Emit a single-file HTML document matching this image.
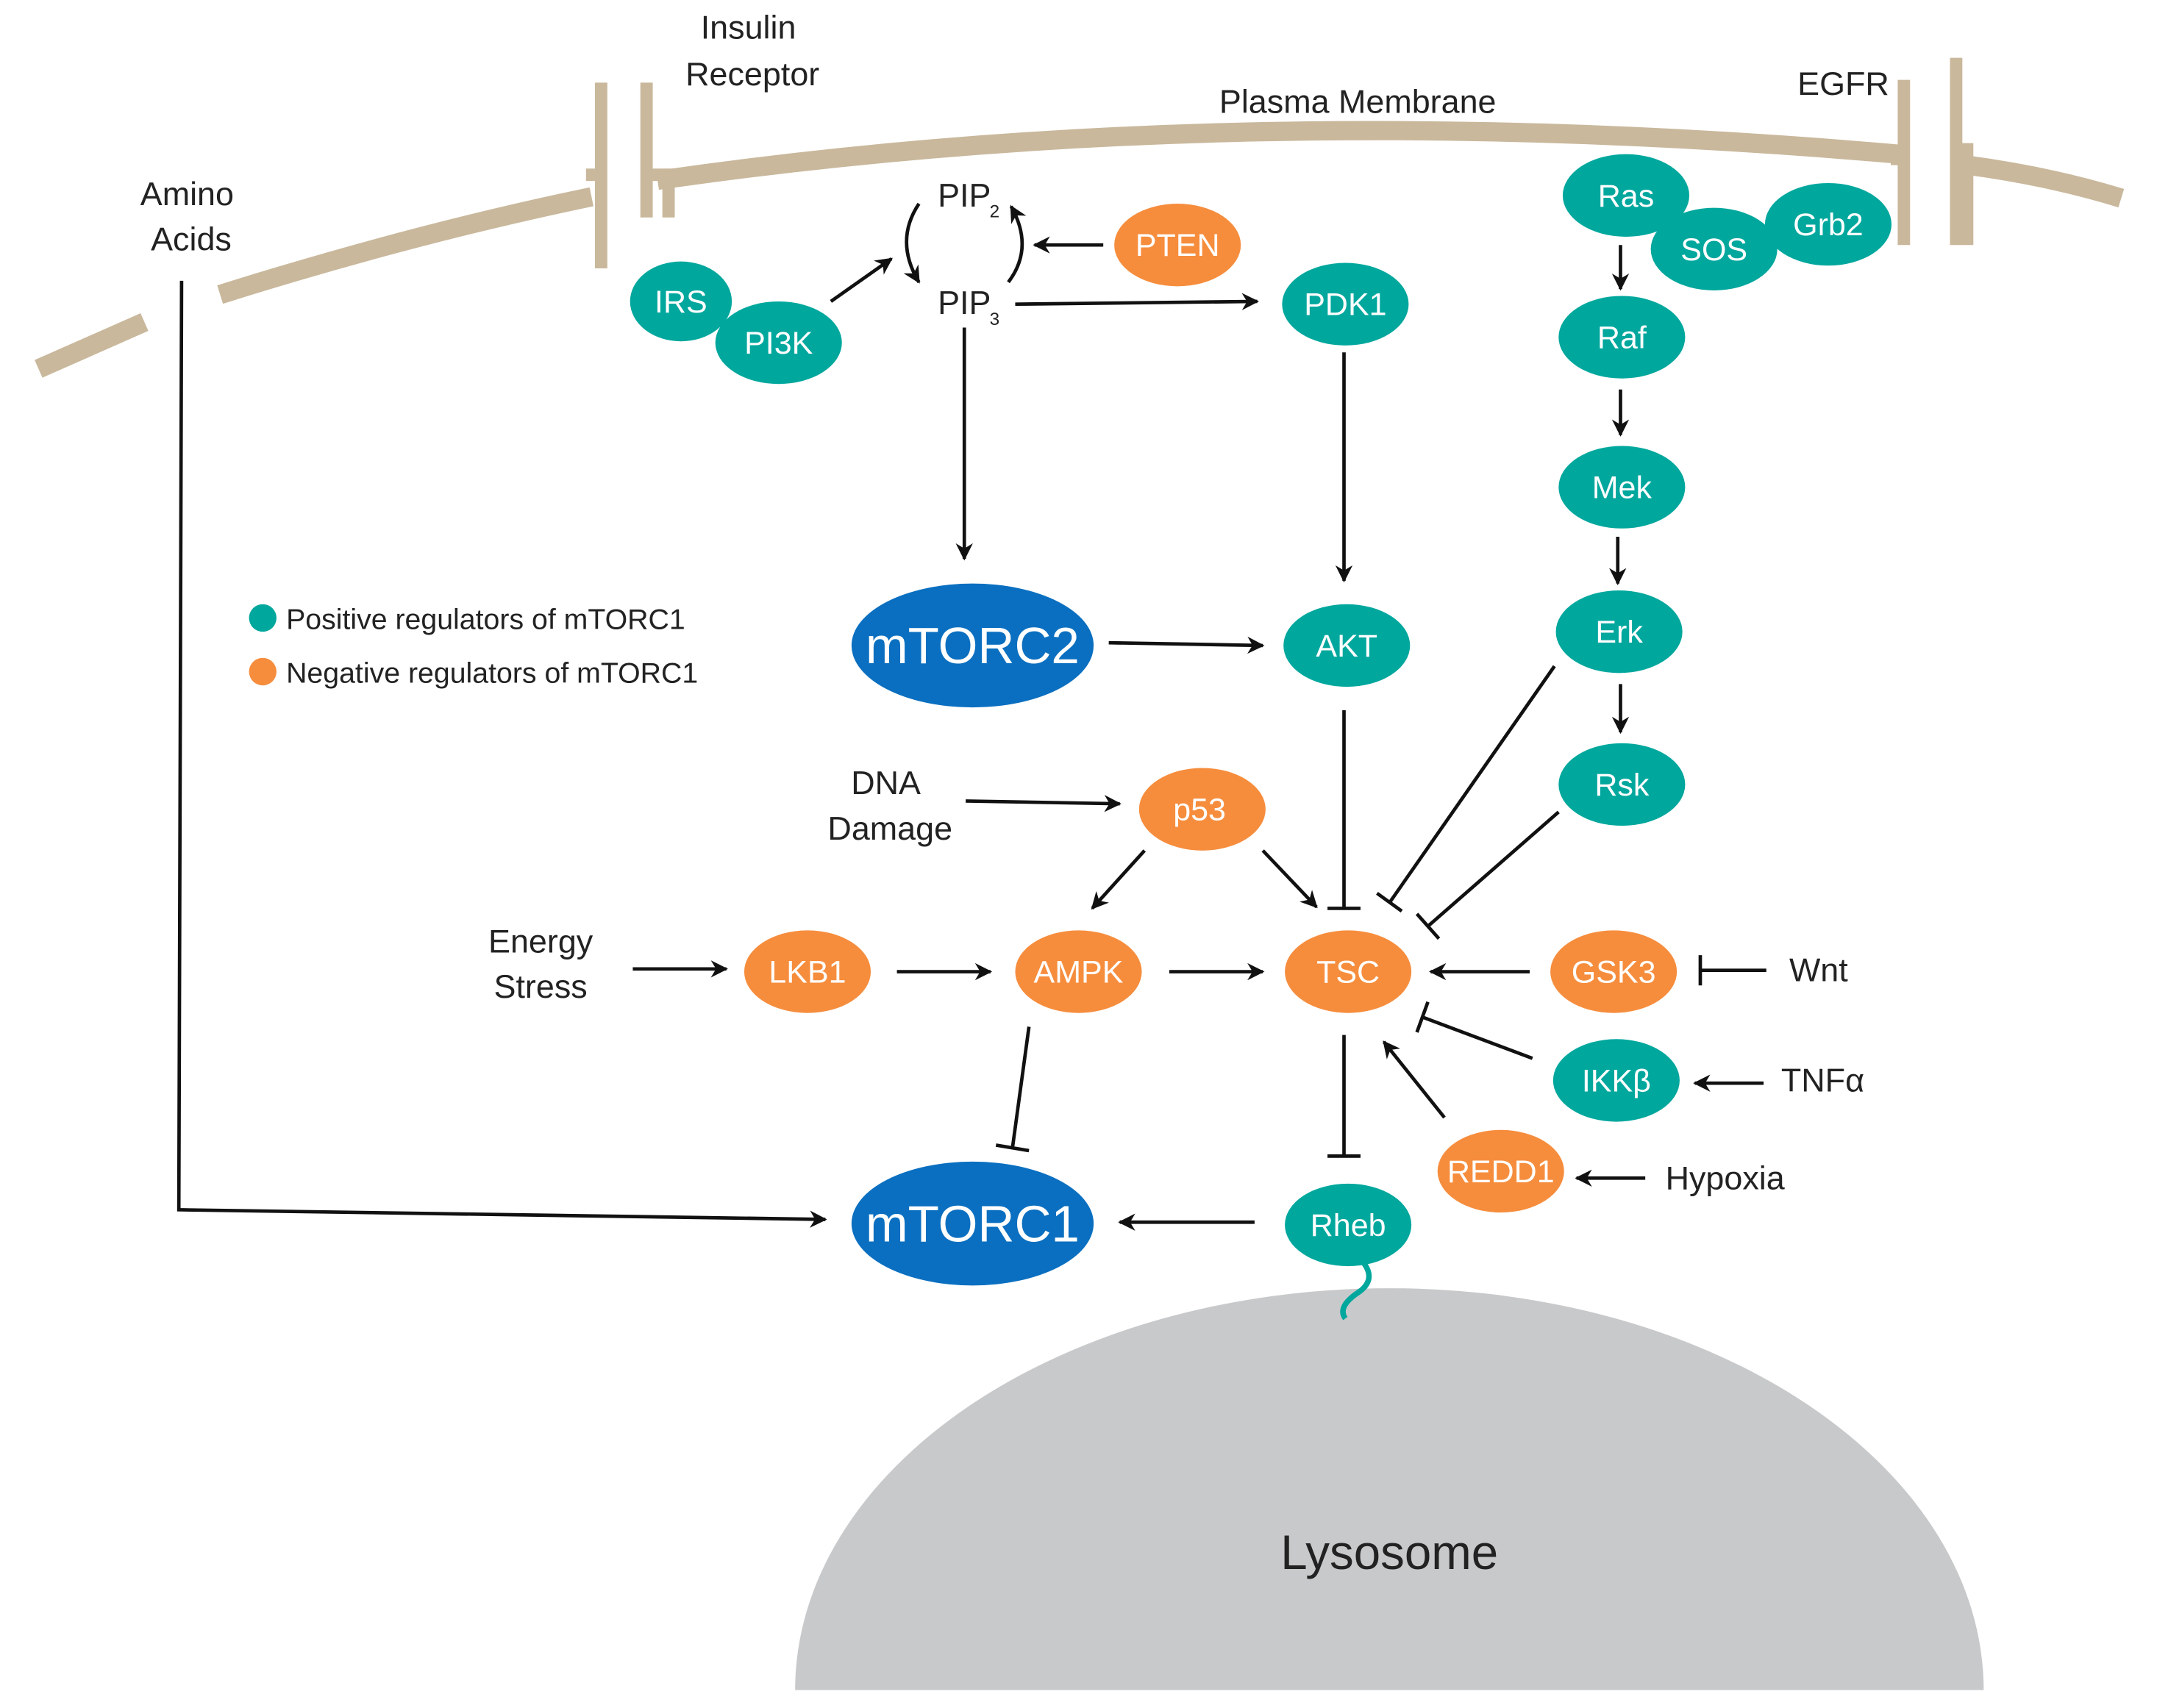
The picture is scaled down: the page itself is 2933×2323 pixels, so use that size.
<!DOCTYPE html>
<html><head><meta charset="utf-8"><style>
html,body{margin:0;padding:0;background:#fff}
svg{display:block}
text{font-family:"Liberation Sans",sans-serif}
</style></head><body>
<svg width="2933" height="2323" viewBox="0 0 1568 1241" preserveAspectRatio="none" xmlns="http://www.w3.org/2000/svg">
<defs>
<marker id="a" viewBox="0 0 10 10" refX="9" refY="5" markerWidth="5" markerHeight="5" orient="auto"><path d="M0,0 L10,5 L0,10 L3,5 z" fill="#111"/></marker>
</defs>
<rect width="1568" height="1241" fill="#fff"/>
<!-- lysosome -->
<path d="M578,1228 A432,292 0 0 1 1442,1228 Z" fill="#c8c9cb"/>
<text x="1010" y="1140" font-size="35" text-anchor="middle" fill="#222">Lysosome</text>
<!-- membrane -->
<g fill="none" stroke="#c9b89c" stroke-width="14">
<path d="M28,268 L105,234"/>
<path d="M160,214 Q300,170 430,143"/>
<path d="M478,131 Q900,70 1380,112"/>
<path d="M1430,120 Q1490,128 1542,144"/>
</g>
<g stroke="#c9b89c" stroke-width="9" fill="none">
<path d="M437,60 V195"/><path d="M470,60 V158"/>
<path d="M426,127 H441"/><path d="M468,127 H486 V158"/>
<path d="M1384,58 V178"/><path d="M1422,42 V178"/>
<path d="M1379,106 V120"/><path d="M1430,104 V178"/>
</g>
<!-- labels -->
<g font-size="24" fill="#222" text-anchor="middle">
<text x="544" y="28">Insulin</text><text x="547" y="62">Receptor</text>
<text x="136" y="149">Amino</text><text x="139" y="182">Acids</text>
<text x="987" y="82">Plasma Membrane</text>
<text x="1340" y="69">EGFR</text>
<text x="644" y="577">DNA</text><text x="647" y="610">Damage</text>
<text x="393" y="692">Energy</text><text x="393" y="725">Stress</text>
<text x="1322" y="713">Wnt</text>
<text x="1325" y="793">TNFα</text>
<text x="1254" y="864">Hypoxia</text>
<text x="701" y="150">PIP</text><text x="723" y="158" font-size="13">2</text>
<text x="701" y="228">PIP</text><text x="723" y="236" font-size="13">3</text>
</g>
<!-- legend -->
<circle cx="191" cy="449" r="10" fill="#00a79d"/><circle cx="191" cy="488" r="10" fill="#f68d3d"/>
<g font-size="21" fill="#222"><text x="208" y="457">Positive regulators of mTORC1</text><text x="208" y="496">Negative regulators of mTORC1</text></g>
<!-- connectors -->
<g stroke="#111" stroke-width="2.5" fill="none" marker-end="url(#a)">
<path d="M132,204 L130,879 L600,886"/>
<path d="M604,219 L648,188"/>
<path d="M668,148 Q650,175 668,205"/>
<path d="M733,205 Q752,180 735,150"/>
<path d="M802,178 L752,178"/>
<path d="M738,221 L914,219"/>
<path d="M701,238 L701,406"/>
<path d="M977,256 L977,422"/>
<path d="M806,467 L918,469"/>
<path d="M1178,178 L1178,210"/>
<path d="M1178,283 L1178,316"/>
<path d="M1176,390 L1176,424"/>
<path d="M1178,497 L1178,532"/>
<path d="M702,582 L814,584"/>
<path d="M832,618 L794,660"/>
<path d="M918,618 L957,659"/>
<path d="M460,704 L528,704"/>
<path d="M652,706 L720,706"/>
<path d="M850,706 L918,706"/>
<path d="M1112,706 L1040,706"/>
<path d="M1282,787 L1232,787"/>
<path d="M1196,856 L1146,856"/>
<path d="M1050,812 L1006,757"/>
<path d="M912,888 L814,888"/>
</g>
<g stroke="#111" stroke-width="2.5" fill="none">
<path d="M977,516 V660 M965,660 H989"/>
<path d="M1130,484 L1010,656 M1001,649 L1019,662"/>
<path d="M1133,590 L1038,673 M1030,664 L1046,682"/>
<path d="M1284,705 H1236 M1236,694 V716"/>
<path d="M1114,769 L1034,739 M1038,728 L1030,750"/>
<path d="M977,752 V840 M965,840 H989"/>
<path d="M748,746 L736,834 M724,832 L748,836"/>
</g>
<path d="M990,916 Q1002,930 986,940 Q972,950 978,958" stroke="#00a79d" stroke-width="4" fill="none"/>
<!-- nodes -->
<g font-size="23" fill="#fff" text-anchor="middle">
<g fill="#00a79d">
<ellipse cx="495" cy="219" rx="37" ry="29"/>
<ellipse cx="566" cy="249" rx="46" ry="30"/>
<ellipse cx="978" cy="221" rx="46" ry="30"/>
<ellipse cx="1182" cy="142" rx="46" ry="30"/>
<ellipse cx="1246" cy="181" rx="46" ry="30"/>
<ellipse cx="1329" cy="163" rx="46" ry="30"/>
<ellipse cx="1179" cy="245" rx="46" ry="30"/>
<ellipse cx="1179" cy="354" rx="46" ry="30"/>
<ellipse cx="1177" cy="459" rx="46" ry="30"/>
<ellipse cx="1179" cy="570" rx="46" ry="30"/>
<ellipse cx="979" cy="469" rx="46" ry="30"/>
<ellipse cx="1175" cy="785" rx="46" ry="30"/>
<ellipse cx="980" cy="890" rx="46" ry="30"/>
</g>
<g fill="#f68d3d">
<ellipse cx="856" cy="178" rx="46" ry="30"/>
<ellipse cx="874" cy="588" rx="46" ry="30"/>
<ellipse cx="587" cy="706" rx="46" ry="30"/>
<ellipse cx="784" cy="706" rx="46" ry="30"/>
<ellipse cx="980" cy="706" rx="46" ry="30"/>
<ellipse cx="1173" cy="706" rx="46" ry="30"/>
<ellipse cx="1091" cy="851" rx="46" ry="30"/>
</g>
<g fill="#0a6fc0">
<ellipse cx="707" cy="469" rx="88" ry="45"/>
<ellipse cx="707" cy="889" rx="88" ry="45"/>
</g>
<text x="495" y="227">IRS</text><text x="566" y="257">PI3K</text><text x="978" y="229">PDK1</text>
<text x="1182" y="150">Ras</text><text x="1246" y="189">SOS</text><text x="1329" y="171">Grb2</text>
<text x="1179" y="253">Raf</text><text x="1179" y="362">Mek</text><text x="1177" y="467">Erk</text>
<text x="1179" y="578">Rsk</text><text x="979" y="477">AKT</text><text x="1175" y="793">IKKβ</text>
<text x="980" y="898">Rheb</text>
<text x="856" y="186">PTEN</text><text x="872" y="596">p53</text><text x="587" y="714">LKB1</text>
<text x="784" y="714">AMPK</text><text x="980" y="714">TSC</text><text x="1173" y="714">GSK3</text>
<text x="1091" y="859">REDD1</text>
<text x="707" y="482" font-size="37">mTORC2</text>
<text x="707" y="902" font-size="37">mTORC1</text>
</g>
</svg>
</body></html>
